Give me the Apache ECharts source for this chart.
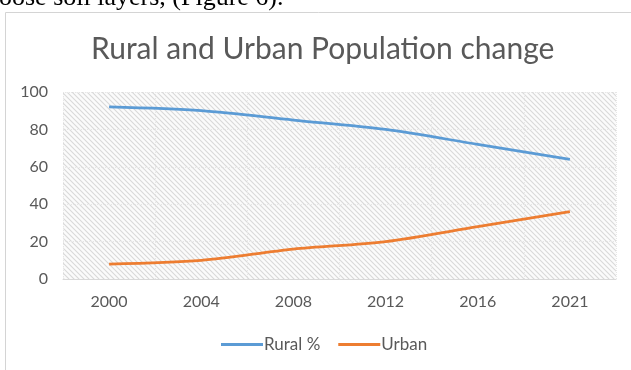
<!DOCTYPE html>
<html>
<head>
<meta charset="utf-8">
<script src="https://cdn.jsdelivr.net/npm/echarts@6/dist/echarts.min.js"></script>
<style>
html,body{margin:0;padding:0;background:#fff;}
#c{width:631px;height:370px;}
</style>
</head>
<body>
<div id="c"></div>
<script>
const categories = ['2000', '2004', '2008', '2012', '2016', '2021'];
const ruralValues = [92, 90, 85, 80, 72, 64];
const urbanValues = [8, 10, 16, 20, 28, 36];
const seriesNames = ['Rural %', 'Urban'];
const chartTitle = 'Rural and Urban Population change';
const captionText = 'oose soil layers, (Figure 6).';

function makeHatch() {
  const s = 5;
  const cv = document.createElement('canvas');
  cv.width = s; cv.height = s;
  const ctx = cv.getContext('2d');
  ctx.fillStyle = '#fbfbfb';
  ctx.fillRect(0, 0, s, s);
  ctx.strokeStyle = '#d9d9d9';
  ctx.lineWidth = 1.1;
  ctx.beginPath();
  ctx.moveTo(-1, -1); ctx.lineTo(s + 1, s + 1);
  ctx.moveTo(-1, s - 1); ctx.lineTo(1, s + 1);
  ctx.moveTo(s - 1, -1); ctx.lineTo(s + 1, 1);
  ctx.stroke();
  return cv;
}

const chart = echarts.init(document.getElementById('c'), null, {renderer: 'canvas'});
const font = 'Lato, "Open Sans", sans-serif';
chart.setOption({
  animation: false,
  backgroundColor: '#fff',
  title: [{
    text: chartTitle,
    left: 91,
    top: 34,
    padding: 0,
    textStyle: {fontFamily: font, fontSize: 30, fontWeight: 'normal', color: '#595959'}
  }, {
    text: captionText,
    left: -1,
    top: -15,
    padding: 0,
    textStyle: {fontFamily: '"Liberation Serif", serif', fontSize: 26, fontWeight: 'normal', color: '#000'}
  }],
  graphic: [{
    type: 'rect',
    silent: true,
    z: -1,
    shape: {x: 5.5, y: 12.5, width: 700, height: 400},
    style: {fill: 'none', stroke: '#d4d4d4', lineWidth: 1}
  }],
  legend: {
    bottom: 12,
    left: 216,
    itemWidth: 42,
    itemHeight: 3,
    itemGap: 18,
    icon: 'rect',
    textStyle: {fontFamily: font, fontSize: 17, color: '#595959', padding: [0, 0, 0, -4]},
    data: seriesNames
  },
  grid: {
    left: 63, right: 15, top: 92, bottom: 91,
    show: true,
    borderWidth: 0,
    backgroundColor: {image: makeHatch(), repeat: 'repeat'}
  },
  xAxis: {
    type: 'category',
    data: categories,
    boundaryGap: true,
    axisLine: {show: true, lineStyle: {color: '#d9d9d9', width: 1}},
    axisTick: {show: false},
    axisLabel: {fontFamily: font, fontSize: 16, color: '#595959', margin: 15},
    splitLine: {show: true, lineStyle: {color: '#e6e6e6', type: 'dotted'}}
  },
  yAxis: {
    type: 'value',
    min: 0, max: 100, interval: 20,
    axisLine: {show: false},
    axisTick: {show: false},
    axisLabel: {fontFamily: font, fontSize: 16, color: '#595959', margin: 15},
    splitLine: {show: true, lineStyle: {color: '#e6e6e6', type: 'dotted'}}
  },
  series: [{
    name: seriesNames[0],
    type: 'line',
    data: ruralValues,
    smooth: 0.3,
    symbol: 'none',
    lineStyle: {color: '#5b9bd5', width: 2.75},
    itemStyle: {color: '#5b9bd5'}
  }, {
    name: seriesNames[1],
    type: 'line',
    data: urbanValues,
    smooth: 0.3,
    symbol: 'none',
    lineStyle: {color: '#ed7d31', width: 2.75},
    itemStyle: {color: '#ed7d31'}
  }]
});
</script>
</body>
</html>
